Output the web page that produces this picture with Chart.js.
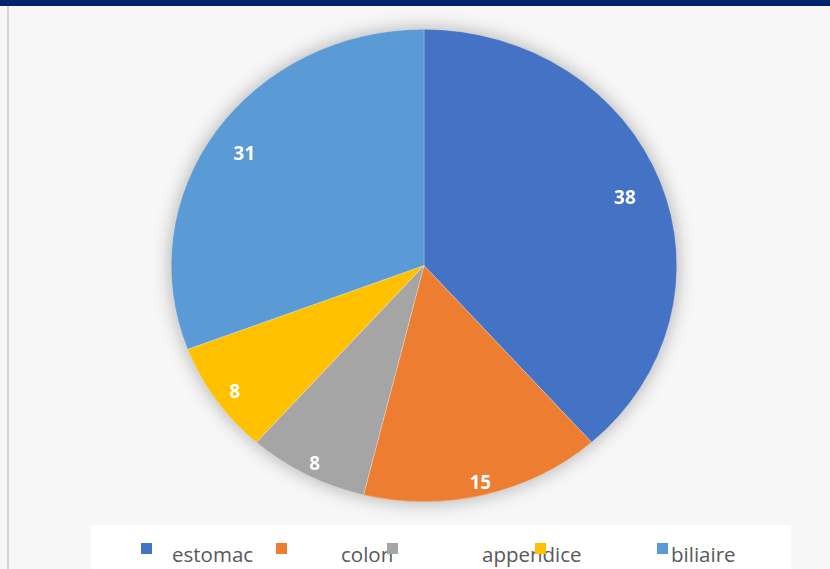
<!DOCTYPE html>
<html>
<head>
<meta charset="utf-8">
<script src="https://cdn.jsdelivr.net/npm/chart.js@4/dist/chart.umd.min.js"></script>
<style>
  html, body { margin: 0; padding: 0; }
  body { width: 830px; height: 569px; background: #f7f7f7; position: relative; overflow: hidden; font-family: "Open Sans", sans-serif; }
  #topBar { position: absolute; left: 0; top: 0; width: 830px; height: 6px; background: #00236c; }
  #leftRule { position: absolute; left: 7px; top: 6px; width: 2px; height: 563px; background: #d4d4d4; }
  #wrap { position: absolute; left: 0; top: 0; width: 830px; height: 569px; }
  #legendBox { position: absolute; left: 91px; top: 525px; width: 700px; height: 44px; background: #ffffff; }
  .mark { position: absolute; top: 543px; width: 11px; height: 11px; }
  .name { position: absolute; top: 541px; font-size: 20.5px; line-height: 27px; color: #595959; white-space: nowrap; }
</style>
</head>
<body>
<div id="topBar"></div>
<div id="leftRule"></div>
<div id="wrap"><canvas id="pieChart"></canvas></div>
<div id="legendBox"></div>
<div id="legend"></div>
<script>
// Share of cases (%), clockwise from 12 o'clock; labels show them rounded
const categories = ['estomac', 'colon', 'appendice', '', 'biliaire'];
const values = [38.46, 15.38, 7.69, 7.69, 30.77];
const sliceColors = ['#4472c4', '#ed7d31', '#a5a5a5', '#ffc000', '#5b9bd5'];

// legend layout (page x of each square and of each caption)
const markX = [141, 276, 387, 535, 657];
const textX = [172, 341, 482, null, 671];

const stretchX = 1.07; // pie is drawn slightly wider than tall
const labelSize = 19;

const ovalPie = {
    id: 'ovalPie',
    beforeDatasetsDraw(chart) {
        const arc = chart.getDatasetMeta(0).data[0];
        const ctx = chart.ctx;
        ctx.save();
        ctx.translate(arc.x, arc.y);
        ctx.scale(stretchX, 1);
        ctx.translate(-arc.x, -arc.y);
        // soft shadow behind the whole pie
        ctx.save();
        ctx.shadowColor = 'rgba(0, 0, 0, 0.34)';
        ctx.shadowBlur = 20;
        ctx.fillStyle = '#ffffff';
        ctx.beginPath();
        ctx.arc(arc.x, arc.y, arc.outerRadius - 1, 0, Math.PI * 2);
        ctx.fill();
        ctx.restore();
    },
    afterDatasetsDraw(chart) {
        const ctx = chart.ctx;
        ctx.restore();
        const meta = chart.getDatasetMeta(0);
        ctx.save();
        ctx.font = 'bold ' + labelSize + 'px "Open Sans", sans-serif';
        ctx.fillStyle = '#ffffff';
        ctx.textAlign = 'center';
        ctx.textBaseline = 'alphabetic';
        meta.data.forEach((arc, i) => {
            const text = values[i].toFixed(0);
            const w = ctx.measureText(text).width;
            const mid = (arc.startAngle + arc.endAngle) / 2;
            // keep the label inside the rim, wider labels sit further in on the sides
            const dist = arc.outerRadius - 10 - 1.25 * w * Math.abs(Math.cos(mid));
            const x = arc.x + Math.cos(mid) * dist * stretchX;
            const y = arc.y + Math.sin(mid) * dist + 3;
            ctx.fillText(text, x, y + 0.36 * labelSize);
        });
        ctx.restore();
    }
};

const ctx = document.getElementById('pieChart').getContext('2d');
const pieChart = new Chart(ctx, {
    type: 'pie',
    data: {
        labels: categories,
        datasets: [{
            data: values,
            backgroundColor: sliceColors,
            borderColor: 'rgba(255, 255, 255, 0.45)',
            borderWidth: 0.5,
        }],
    },
    options: {
        responsive: true,
        maintainAspectRatio: false,
        animation: false,
        layout: { padding: { top: 29, bottom: 67, left: 18, right: 0 } },
        plugins: {
            legend: { display: false },
            tooltip: { enabled: false },
        },
    },
    plugins: [ovalPie],
});

// Legend below the pie
const legend = document.getElementById('legend');
categories.forEach((name, i) => {
    const mark = document.createElement('div');
    mark.className = 'mark';
    mark.style.left = markX[i] + 'px';
    mark.style.background = sliceColors[i];
    legend.appendChild(mark);
    if (name && textX[i] !== null) {
        const txt = document.createElement('span');
        txt.className = 'name';
        txt.style.left = textX[i] + 'px';
        txt.textContent = name;
        legend.appendChild(txt);
    }
});
</script>
</body>
</html>
